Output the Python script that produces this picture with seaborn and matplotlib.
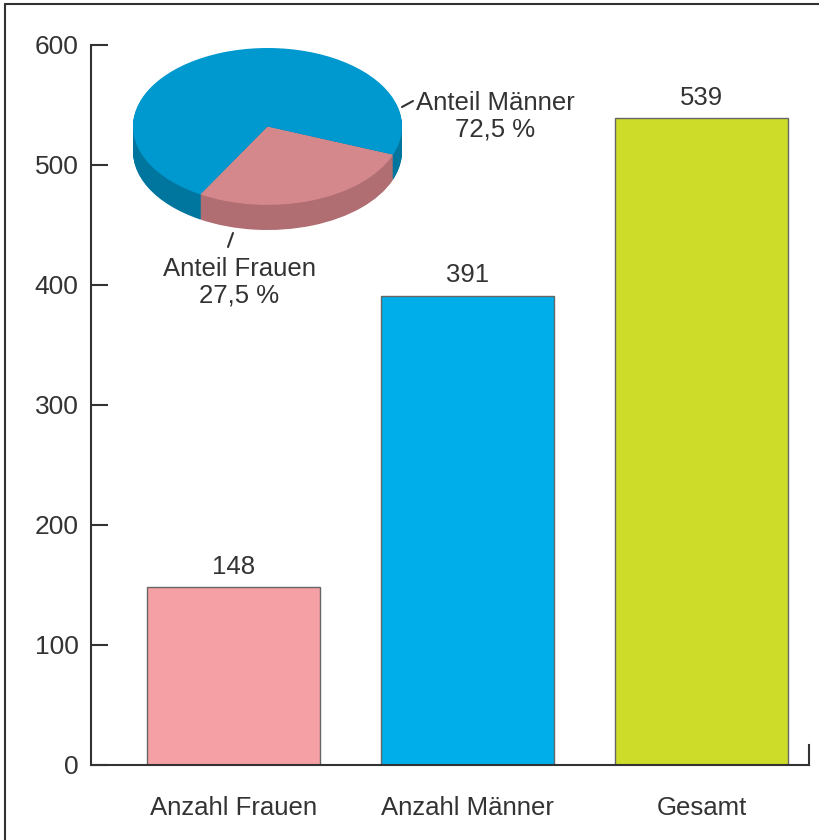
import numpy as np
import pandas as pd
import matplotlib
matplotlib.use("Agg")
import matplotlib.pyplot as plt
import seaborn as sns

categories = ["Anzahl Frauen", "Anzahl Männer", "Gesamt"]
counts = [148, 391, 539]
bar_colors = ["#F4A0A5", "#00AEEA", "#CDDC29"]

pie_labels = ["Anteil Frauen\n27,5 %", "Anteil Männer\n72,5 %"]
pie_shares = [27.5, 72.5]
pie_top_colors = ["#D5888B", "#0099CF"]
pie_side_colors = ["#B06E72", "#00769F"]

yticks = [0, 100, 200, 300, 400, 500, 600]

sns.set_style("white")
plt.rcParams["font.family"] = ["Liberation Sans", "DejaVu Sans"]
ink = "#333333"

fig = plt.figure(figsize=(8.19, 8.4), dpi=100)
ax = fig.add_axes([91 / 819, 75 / 840, 718 / 819, 720 / 840])

df = pd.DataFrame({"kat": categories, "n": counts})
sns.barplot(data=df, x="kat", y="n", hue="kat", palette=bar_colors, saturation=1,
            width=0.74, edgecolor="#666666", linewidth=1, legend=False, ax=ax)
for c in ax.containers:
    ax.bar_label(c, padding=6, fontsize=18.5, color=ink)

ax.set_ylim(0, 600)
ax.set_xlim(-0.61, 2.46)
ax.set_yticks(yticks)
ax.set_xlabel("")
ax.set_ylabel("")
ax.tick_params(axis="y", left=True, direction="in", length=12, width=1.5, color=ink,
               labelsize=19, labelcolor=ink, pad=9)
ax.tick_params(axis="x", bottom=False, length=0, labelsize=18.5, labelcolor=ink, pad=22)
ax.spines["top"].set_visible(False)
for s in ["left", "bottom", "right"]:
    ax.spines[s].set_color(ink)
    ax.spines[s].set_linewidth(1.5)
ax.spines["right"].set_bounds(0, 17)

# 3D-like pie inset
depth = 0.32
pax = fig.add_axes([133 / 819, 1 - 230 / 840, 269 / 819, 182 / 840])
for d in np.linspace(depth, 0.01, 30):
    pax.pie(pie_shares, colors=pie_side_colors, startangle=-120,
            counterclock=True, center=(0, -d), radius=1,
            wedgeprops={"linewidth": 0})
pax.pie(pie_shares, colors=pie_top_colors, startangle=-120,
        counterclock=True, center=(0, 0), radius=1,
        wedgeprops={"linewidth": 0})
pax.set_aspect("auto")
pax.set_xlim(-1, 1)
pax.set_ylim(-1 - depth, 1)
pax.axis("off")

# labels with short leader lines
fig.text(495 / 819, 1 - 116 / 840, pie_labels[1], ha="center", va="center",
         fontsize=18.5, color=ink, linespacing=1.15)
fig.text(239 / 819, 1 - 282 / 840, pie_labels[0], ha="center", va="center",
         fontsize=18.5, color=ink, linespacing=1.15)
fig.add_artist(plt.Line2D([402 / 819, 413 / 819], [1 - 107 / 840, 1 - 101 / 840],
                          color=ink, lw=1.5))
fig.add_artist(plt.Line2D([233 / 819, 228 / 819], [1 - 233 / 840, 1 - 247 / 840],
                          color=ink, lw=1.5))

# frame edges
fig.add_artist(plt.Line2D([5 / 819, 1], [1 - 4 / 840, 1 - 4 / 840], color=ink, lw=1.5))
fig.add_artist(plt.Line2D([5 / 819, 5 / 819], [0, 1 - 4 / 840], color=ink, lw=1.5))

fig.savefig("out.png", dpi=100)
